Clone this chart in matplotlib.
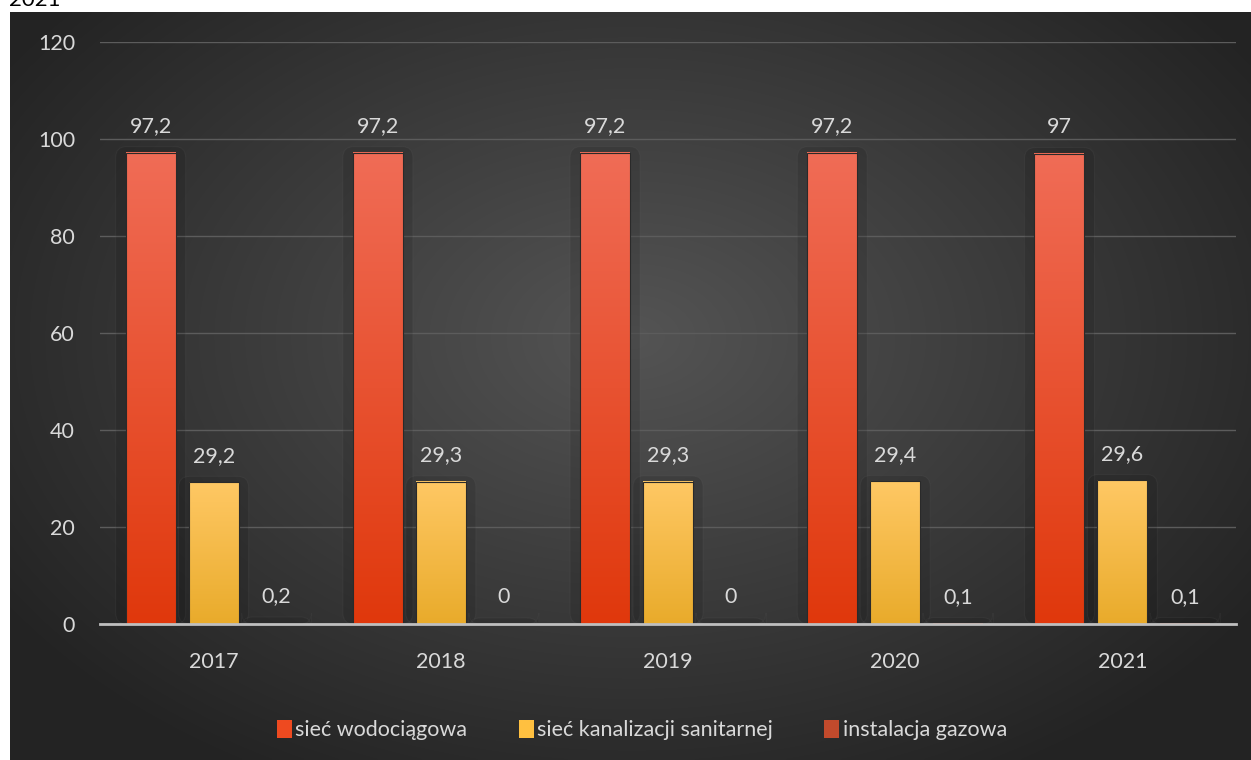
import matplotlib
matplotlib.use("Agg")
import matplotlib.pyplot as plt
from matplotlib.patches import FancyBboxPatch, Patch
from matplotlib.transforms import IdentityTransform
import numpy as np

# dane
years = ["2017", "2018", "2019", "2020", "2021"]
wodociag = [97.2, 97.2, 97.2, 97.2, 97.0]
kanalizacja = [29.2, 29.3, 29.3, 29.4, 29.6]
gaz = [0.2, 0.0, 0.0, 0.1, 0.1]
labels_wod = ["97,2", "97,2", "97,2", "97,2", "97"]
labels_kan = ["29,2", "29,3", "29,3", "29,4", "29,6"]
labels_gaz = ["0,2", "0", "0", "0,1", "0,1"]
series_names = ["sieć wodociągowa", "sieć kanalizacji sanitarnej", "instalacja gazowa"]
yticks = [0, 20, 40, 60, 80, 100, 120]

plt.rcParams['font.family'] = ['Lato', 'DejaVu Sans']
W, H = 1251, 760
fig = plt.figure(figsize=(W / 100, H / 100), dpi=100, facecolor='white')

# tlo - gradient radialny
bg = fig.add_axes([10 / W, 0, 1241 / W, 748 / H], zorder=0)
yy, xx = np.mgrid[0:300, 0:500]
d = np.sqrt(((xx - 250) / 300.0) ** 2 + ((yy - 130) / 200.0) ** 2)
d = np.clip(d, 0, 1)
v = 0.33 - 0.19 * d
img = np.dstack([v, v, v])
bg.imshow(img, aspect='auto', extent=[0, 1, 0, 1], interpolation='bilinear')
bg.set_axis_off()

fig.text(9 / W, 1 - 6 / H, "2021", fontsize=16, color='black', va='baseline')

ax = fig.add_axes([100 / W, 1 - 624 / H, 1136 / W, (624 - 42) / H], zorder=1)
ax.patch.set_alpha(0)
ax.set_xlim(-0.5, 4.5)
ax.set_ylim(0, 120)

x = np.arange(len(years))
bw = 0.22
off = 0.277
txt_col = '#D9D9D9'
fs = 15.5

ser = [
    (wodociag, labels_wod, -off, ('#F06C56', '#E0380C'), '#EE4A20'),
    (kanalizacja, labels_kan, 0, ('#FFC864', '#E9AB2B'), '#FFC040'),
    (gaz, labels_gaz, off, ('#CC583C', '#B8401F'), '#C24A2C'),
]

fig.canvas.draw()
tr = ax.transData
for vals, labs, o, (ctop, cbot), csolid in ser:
    c1 = np.array(matplotlib.colors.to_rgb(ctop))
    c2 = np.array(matplotlib.colors.to_rgb(cbot))
    t = np.linspace(0, 1, 100)[:, None]
    grad = (c1 * (1 - t) + c2 * t)[:, None, :]
    for xi, val, lab in zip(x, vals, labs):
        x0, x1 = xi + o - bw / 2, xi + o + bw / 2
        # obwodka (cien) wokol slupka
        p0 = tr.transform((x0, 0))
        p1 = tr.transform((x1, val))
        box = FancyBboxPatch((p0[0] - 10, p0[1]), (p1[0] - p0[0]) + 20,
                             (p1[1] - p0[1]) + 6,
                             boxstyle="round,pad=0,rounding_size=11",
                             transform=IdentityTransform(), facecolor='#000000', alpha=0.10,
                             edgecolor='#777777', linewidth=0.8, zorder=2)
        ax.add_patch(box)
        if val > 0:
            ax.imshow(grad, extent=[x0, x1, 0, val], aspect='auto', zorder=3,
                      interpolation='bilinear')
            ax.add_patch(plt.Rectangle((x0, 0), bw, val, fill=False,
                                       edgecolor='#2a2a2a', linewidth=0.8, zorder=4))
        ax.annotate(lab, (xi + o, val), xytext=(0, 12), textcoords='offset points',
                    ha='center', va='bottom', color=txt_col, fontsize=fs, zorder=5)

ax.set_xlim(-0.5, 4.5)
ax.set_ylim(0, 120)
ax.set_yticks(yticks)
ax.set_yticklabels([str(v) for v in yticks])
ax.set_xticks(x)
ax.set_xticklabels(years)
ax.tick_params(length=0, colors=txt_col, labelsize=fs)
ax.tick_params(axis='y', pad=18)
ax.tick_params(axis='x', pad=20)
ax.grid(axis='y', color='#5c5c5c', linewidth=1)
ax.set_axisbelow(True)
for s in ['top', 'right', 'left']:
    ax.spines[s].set_visible(False)
ax.spines['bottom'].set_color('#BFBFBF')
ax.spines['bottom'].set_linewidth(2)
ax.spines['bottom'].set_zorder(6)

handles = [Patch(facecolor=s[4], edgecolor='none') for s in ser]
fig.legend(handles, series_names, loc='center', bbox_to_anchor=(0.513, 1 - 730 / H),
           ncol=3, frameon=False, fontsize=fs, labelcolor=txt_col,
           handlelength=0.7, handleheight=0.9, handletextpad=0.15, columnspacing=2.4)

fig.savefig("out.png", dpi=100, facecolor='white')
